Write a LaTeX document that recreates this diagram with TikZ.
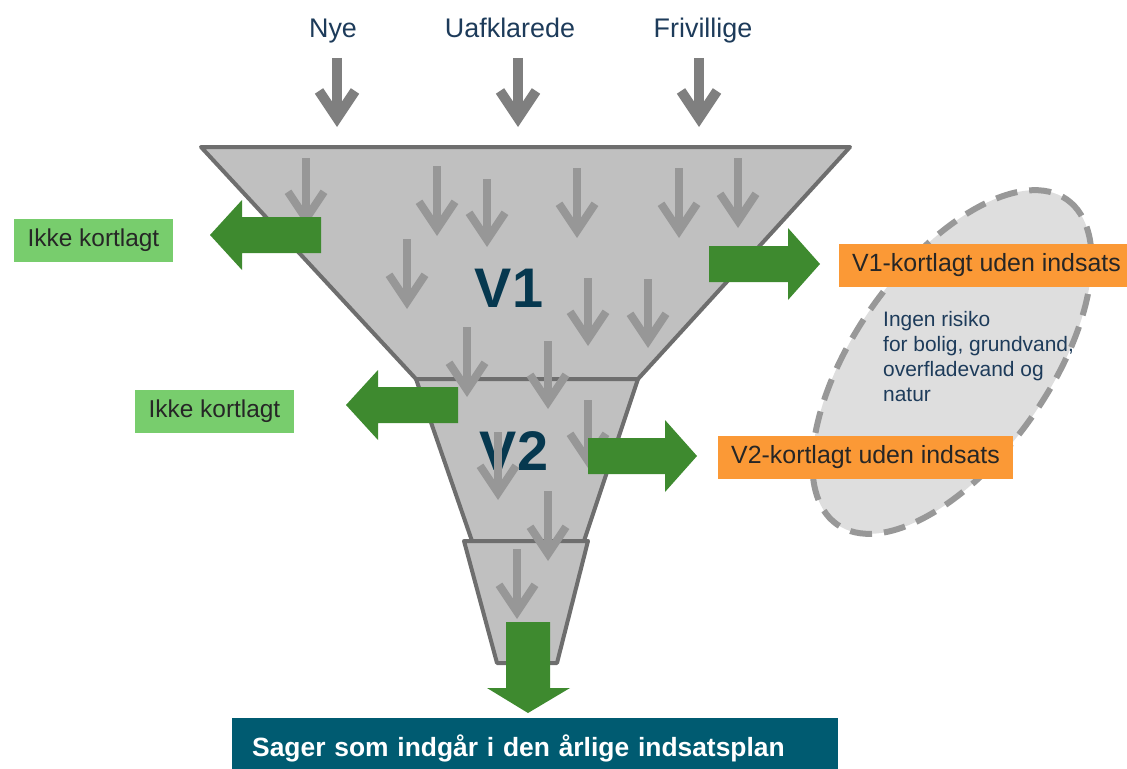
\documentclass[tikz,border=0pt]{standalone}
\usepackage{fontspec}
\setmainfont{Liberation Sans}
\usetikzlibrary{arrows.meta}

\definecolor{funnelgray}{HTML}{C0C0C0}
\definecolor{edgegray}{HTML}{6E6E6E}
\definecolor{flowgray}{HTML}{979797}
\definecolor{topgray}{HTML}{7F7F7F}
\definecolor{darkgreen}{HTML}{3E8A2F}
\definecolor{lightgreen}{HTML}{78CD6D}
\definecolor{boxorange}{HTML}{FB9936}
\definecolor{levelblue}{HTML}{06384F}
\definecolor{bottomteal}{HTML}{005B71}
\definecolor{ellgray}{HTML}{DEDEDE}
\definecolor{dashgray}{HTML}{989898}
\definecolor{noteblue}{HTML}{1D3B5A}

\tikzset{
    flow/.style={draw=flowgray, line width=8bp, -{Straight Barb[length=27bp,width=36bp]}},
    inflow/.style={draw=topgray, line width=10bp, -{Straight Barb[length=27bp,width=36bp]}},
    funnel/.style={fill=funnelgray, draw=edgegray, line width=4bp, line join=round},
    level/.style={font=\fontsize{56}{60}\selectfont\bfseries, text=levelblue, anchor=base},
    source/.style={font=\fontsize{27}{30}\selectfont, text=noteblue, anchor=base},
    greenbox/.style={fill=lightgreen, font=\fontsize{24.5}{28}\selectfont, text=black!85,
        minimum height=43bp, inner xsep=14bp},
    orangebox/.style={fill=boxorange, font=\fontsize{25}{28}\selectfont, text=black!85,
        anchor=west, minimum height=43bp, inner xsep=13bp},
    bigarrow/.style={fill=darkgreen},
}

\begin{document}
\begin{tikzpicture}[x=1bp, y=-1bp]
        \useasboundingbox (0,0) rectangle (1127,769);

        % Draw the ellipse
        \draw[fill=ellgray, draw=dashgray, line width=6bp, dash pattern=on 22bp off 12bp,
            rotate around={54.7:(952,362)}] (952,362) ellipse (199 and 97);

        % Draw the funnel
        \draw[funnel] (201,147) -- (850,147) -- (638,379) -- (416,379) -- cycle;
        \draw[funnel] (416,379) -- (638,379) -- (584,541) -- (472,541) -- cycle;
        \draw[funnel] (464,541) -- (588,541) -- (557,663) -- (497,663) -- cycle;

        % Define the levels
        \node[level] (V1) at (509,307) {V1};
        \node[level] (V2) at (514,470) {V2};

        % Define the sources
        \node[source] (nye) at (333,38) {Nye};
        \node[source] (uaf) at (510,38) {Uafklarede};
        \node[source] (friv) at (703,38) {Frivillige};

        % Draw arrows
        \draw[inflow] (337,58) -- (337,127);
        \draw[inflow] (518,58) -- (518,127);
        \draw[inflow] (699,58) -- (699,127);

        \draw[flow] (306,158) -- (306,226);
        \draw[flow] (437,166) -- (437,236);
        \draw[flow] (487,179) -- (487,247);
        \draw[flow] (577,168) -- (577,238);
        \draw[flow] (679,168) -- (679,238);
        \draw[flow] (738,158) -- (738,228);
        \draw[flow] (407,239) -- (407,309);
        \draw[flow] (588,278) -- (588,346);
        \draw[flow] (648,279) -- (648,348);
        \draw[flow] (467,327) -- (467,397);
        \draw[flow] (548,341) -- (548,409);
        \draw[flow] (588,400) -- (588,468);
        \draw[flow] (498,432) -- (498,500);
        \draw[flow] (548,491) -- (548,561);
        \draw[flow] (517,549) -- (517,619);

        % Draw green arrows
        \fill[bigarrow] (321,217) -- (242,217) -- (242,200) -- (210,235) -- (242,270) -- (242,253) -- (321,253) -- cycle;
        \fill[bigarrow] (458,387) -- (378,387) -- (378,370) -- (346,405) -- (378,440) -- (378,423) -- (458,423) -- cycle;
        \fill[bigarrow] (709,246) -- (788,246) -- (788,228) -- (820,264) -- (788,300) -- (788,282) -- (709,282) -- cycle;
        \fill[bigarrow] (588,438) -- (665,438) -- (665,420) -- (697,456) -- (665,492) -- (665,474) -- (588,474) -- cycle;
        \fill[bigarrow] (506,622) -- (506,688) -- (487,688) -- (528,713) -- (570,688) -- (550,688) -- (550,622) -- cycle;

        % Define the outcomes
        \node[greenbox] (ikke1) at (93.5,240) {Ikke kortlagt};
        \node[greenbox] (ikke2) at (214.5,411) {Ikke kortlagt};
        \node[orangebox] (v1out) at (839,265.5) {V1-kortlagt uden indsats};
        \node[orangebox] (v2out) at (718,457) {V2-kortlagt uden indsats};

        \node[anchor=north west, inner sep=0pt, align=left, text=noteblue,
            font=\fontsize{21}{25}\selectfont] (risk) at (883,311)
            {Ingen risiko\\for bolig, grundvand,\\overfladevand og\\natur};

        \node[anchor=north west, fill=bottomteal, text=white, minimum width=606bp,
            minimum height=60bp, inner xsep=20bp, text width=566bp,
            font=\fontsize{26.5}{30}\selectfont\bfseries] (plan) at (232,718)
            {Sager som indgår i den årlige indsatsplan};
    \end{tikzpicture}
\end{document}
